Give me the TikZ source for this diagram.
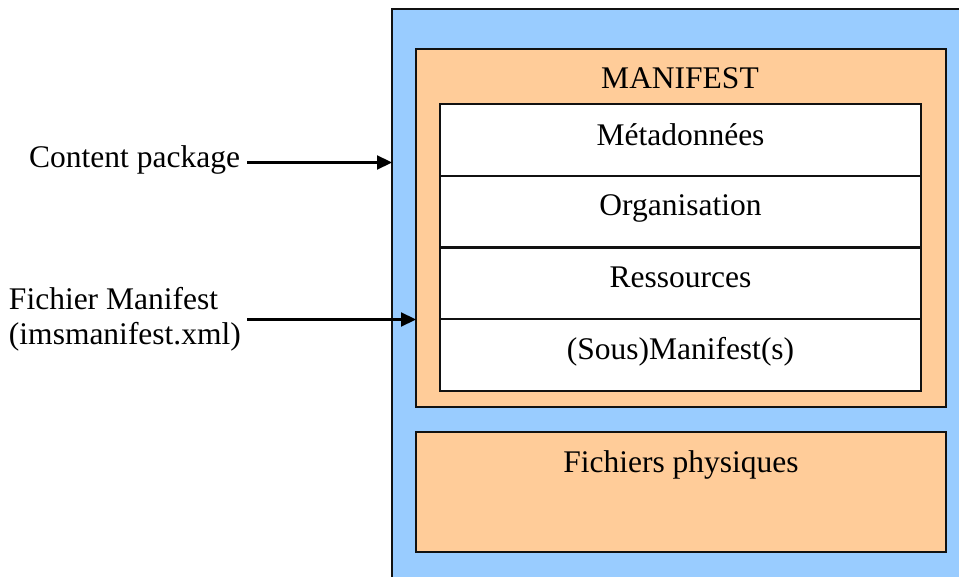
\documentclass[tikz,border=0pt]{standalone}
\usepackage{fontspec}
\setmainfont{Liberation Serif}
\usetikzlibrary{arrows.meta}
\definecolor{bluebg}{HTML}{99CCFF}
\definecolor{orangebg}{HTML}{FFCC99}
\definecolor{edge}{HTML}{111111}
\begin{document}
\begin{tikzpicture}[x=1pt,y=-1pt,
  box/.style={draw=edge,line width=2.4pt,inner sep=0pt,outer sep=0pt},
  lbl/.style={inner sep=0pt,outer sep=0pt,font=\fontsize{31.5}{36}\selectfont},
  arr/.style={line width=2.2pt,-{Triangle[length=15pt,width=14pt]}}]
\useasboundingbox (0,0) rectangle (959,577);
\clip (0,0) rectangle (959,577);
\fill[white] (0,0) rectangle (959,577);
% outer package
\node[box,fill=bluebg,minimum width=600pt,minimum height=600pt] (outer) at (692,309) {};
% manifest
\node[box,fill=orangebg,minimum width=530pt,minimum height=358pt] (manifest) at (681,228) {};
\node[lbl,anchor=base] (mtitle) at (680,89) {MANIFEST};
% table rows
\node[box,fill=white,minimum width=481pt,minimum height=71.75pt] (r1) at (680.5,139.875) {};
\node[box,fill=white,minimum width=481pt,minimum height=71.75pt] (r2) at (680.5,211.625) {};
\node[box,fill=white,minimum width=481pt,minimum height=71.75pt] (r3) at (680.5,283.375) {};
\node[box,fill=white,minimum width=481pt,minimum height=71.75pt] (r4) at (680.5,355.125) {};
\node[lbl,anchor=base] (t1) at (680.5,145.7) {Métadonnées};
\node[lbl,anchor=base] (t2) at (680.5,216) {Organisation};
\node[lbl,anchor=base] (t3) at (680.5,287.5) {Ressources};
\node[lbl,anchor=base] (t4) at (680.5,360) {(Sous)Manifest(s)};
% physical files
\node[box,fill=orangebg,minimum width=530pt,minimum height=120pt] (files) at (681,492) {};
\node[lbl,anchor=base] (tf) at (681,472.7) {Fichiers physiques};
% left labels
\node[lbl,anchor=base east] (cp) at (240,168) {Content package};
\node[lbl,anchor=base west] (fm1) at (9,310) {Fichier Manifest};
\node[lbl,anchor=base west] (fm2) at (9,345) {(imsmanifest.xml)};
% arrows
\coordinate (a1) at (247,162.5);
\coordinate (a2) at (247,319.5);
\draw[arr] (a1) -- (a1 -| outer.west);
\draw[arr] (a2) -- (a2 -| manifest.west);
\end{tikzpicture}
\end{document}
